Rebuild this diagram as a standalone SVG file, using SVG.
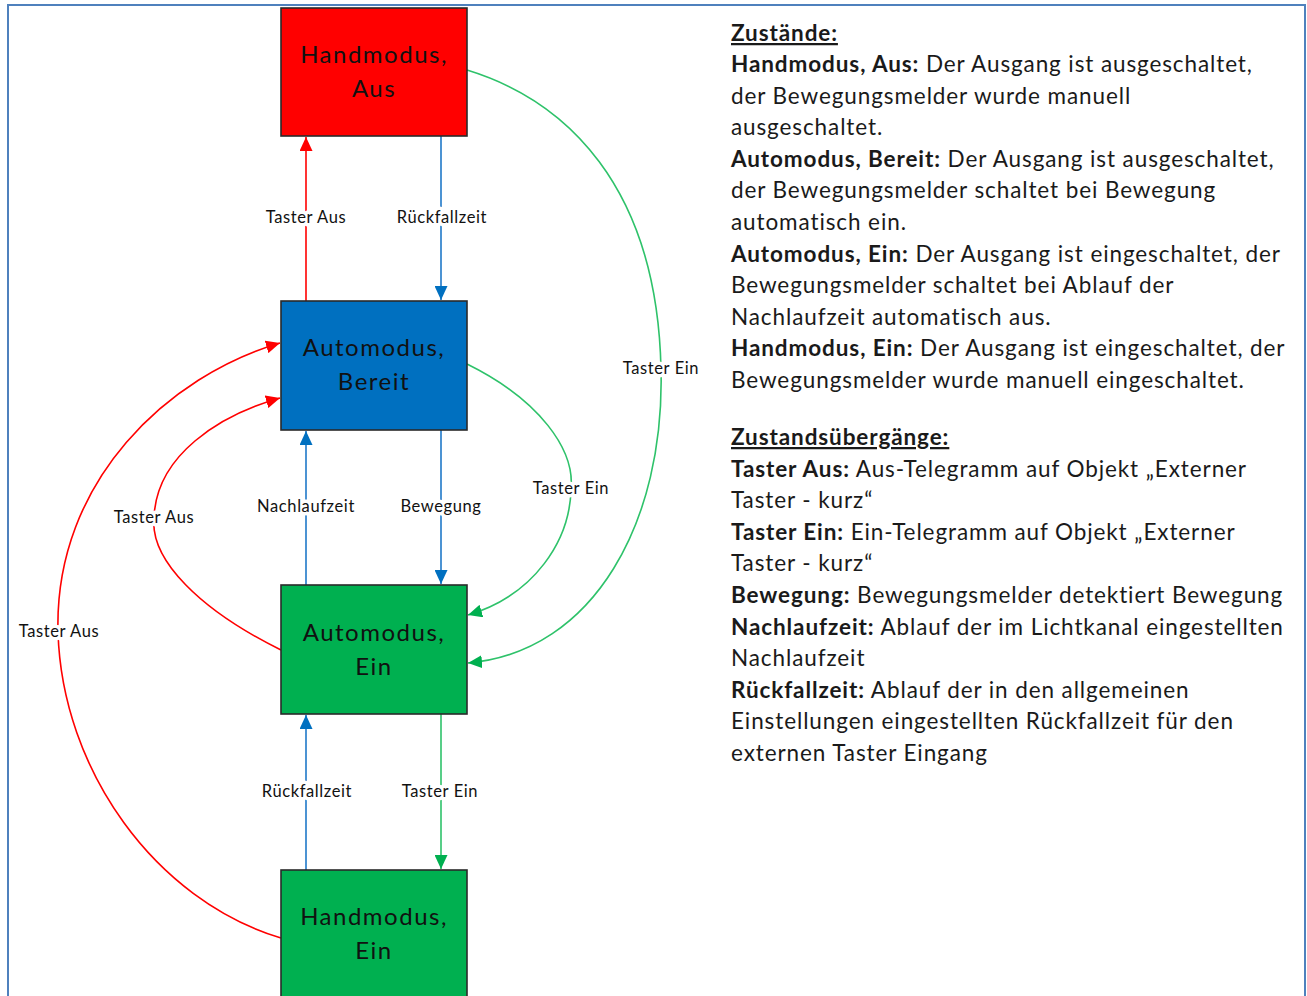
<svg xmlns="http://www.w3.org/2000/svg" width="1307" height="996" viewBox="0 0 1307 996">
<style>
.node rect{stroke:#2a2a2a;stroke-width:1.6}
.nt{font-family:Lato,"Liberation Sans",sans-serif;font-size:24px;letter-spacing:1.5px;fill:#111;text-anchor:middle}
.el{font-family:Lato,"Liberation Sans",sans-serif;font-size:16.5px;letter-spacing:0.6px;fill:#111;text-anchor:middle;stroke:#fff;stroke-width:7;paint-order:stroke;stroke-linejoin:round}
.c{fill:none;stroke-width:1.6}
.r{stroke:#FF0000}.b{stroke:#1F78C8}.g{stroke:#2EC26A}
.tx{font-family:Lato,"Liberation Sans",sans-serif;font-size:22.5px;letter-spacing:0.9px;fill:#1a1a1a}
.bd{font-weight:bold}
.ul{font-weight:bold;text-decoration:underline}
</style>
<defs>
<marker id="ar" viewBox="0 0 14 13" refX="14" refY="6.5" markerWidth="14" markerHeight="13" markerUnits="userSpaceOnUse" orient="auto"><path d="M0,0L14,6.5L0,13z" fill="#FF0000"/></marker>
<marker id="ab" viewBox="0 0 14 13" refX="14" refY="6.5" markerWidth="14" markerHeight="13" markerUnits="userSpaceOnUse" orient="auto"><path d="M0,0L14,6.5L0,13z" fill="#0070C0"/></marker>
<marker id="ag" viewBox="0 0 14 13" refX="14" refY="6.5" markerWidth="14" markerHeight="13" markerUnits="userSpaceOnUse" orient="auto"><path d="M0,0L14,6.5L0,13z" fill="#00B050"/></marker>
</defs>
<rect x="0" y="0" width="1307" height="996" fill="#fff"/>
<rect x="8" y="5" width="1297" height="1000" fill="none" stroke="#4F81BD" stroke-width="2"/>

<g id="connectors">
<path class="c r" d="M306,301V137" marker-end="url(#ar)"/>
<path class="c b" d="M441,136V300" marker-end="url(#ab)"/>
<path class="c g" d="M467,70C565,100 657,185 661,369C665,520 595,652 468,663" marker-end="url(#ag)"/>
<path class="c g" d="M467,364C540,400 575,450 571,489C570,540 535,595 468,615" marker-end="url(#ag)"/>
<path class="c b" d="M306,585V431" marker-end="url(#ab)"/>
<path class="c b" d="M441,430V584" marker-end="url(#ab)"/>
<path class="c r" d="M281,650C200,610 150,560 154,518C156,455 220,415 280,398" marker-end="url(#ar)"/>
<path class="c r" d="M281,938C155,900 62,770 58,632C54,480 170,375 280,343" marker-end="url(#ar)"/>
<path class="c b" d="M306,870V715" marker-end="url(#ab)"/>
<path class="c g" d="M441,714V869" marker-end="url(#ag)"/>
<text class="el" x="306" y="223">Taster Aus</text>
<text class="el" x="442" y="223">Rückfallzeit</text>
<text class="el" x="661" y="374">Taster Ein</text>
<text class="el" x="571" y="494">Taster Ein</text>
<text class="el" x="154" y="523">Taster Aus</text>
<text class="el" x="306" y="512">Nachlaufzeit</text>
<text class="el" x="441" y="512">Bewegung</text>
<text class="el" x="59" y="637">Taster Aus</text>
<text class="el" x="307" y="797">Rückfallzeit</text>
<text class="el" x="440" y="797">Taster Ein</text>
</g>

<g id="n-handmodus-aus" class="node">
<rect x="281" y="8" width="186" height="128" fill="#FF0000"/>
<text class="nt" x="374" y="63">Handmodus,</text>
<text class="nt" x="374" y="97">Aus</text>
</g>
<g id="n-automodus-bereit" class="node">
<rect x="281" y="301" width="186" height="129" fill="#0070C0"/>
<text class="nt" x="374" y="356">Automodus,</text>
<text class="nt" x="374" y="390">Bereit</text>
</g>
<g id="n-automodus-ein" class="node">
<rect x="281" y="585" width="186" height="129" fill="#00B050"/>
<text class="nt" x="374" y="641">Automodus,</text>
<text class="nt" x="374" y="675">Ein</text>
</g>
<g id="n-handmodus-ein" class="node">
<rect x="281" y="870" width="186" height="140" fill="#00B050"/>
<text class="nt" x="374" y="925">Handmodus,</text>
<text class="nt" x="374" y="959">Ein</text>
</g>

<g id="legend" class="tx">
<text x="731" y="41" class="ul">Zustände:</text>
<text x="731" y="72"><tspan class="bd">Handmodus, Aus:</tspan> Der Ausgang ist ausgeschaltet,</text>
<text x="731" y="104">der Bewegungsmelder wurde manuell</text>
<text x="731" y="135">ausgeschaltet.</text>
<text x="731" y="167"><tspan class="bd">Automodus, Bereit:</tspan> Der Ausgang ist ausgeschaltet,</text>
<text x="731" y="198">der Bewegungsmelder schaltet bei Bewegung</text>
<text x="731" y="230">automatisch ein.</text>
<text x="731" y="262"><tspan class="bd">Automodus, Ein:</tspan> Der Ausgang ist eingeschaltet, der</text>
<text x="731" y="293">Bewegungsmelder schaltet bei Ablauf der</text>
<text x="731" y="325">Nachlaufzeit automatisch aus.</text>
<text x="731" y="356"><tspan class="bd">Handmodus, Ein:</tspan> Der Ausgang ist eingeschaltet, der</text>
<text x="731" y="388">Bewegungsmelder wurde manuell eingeschaltet.</text>
<text x="731" y="445" class="ul">Zustandsübergänge:</text>
<text x="731" y="477"><tspan class="bd">Taster Aus:</tspan> Aus-Telegramm auf Objekt „Externer</text>
<text x="731" y="508">Taster - kurz“</text>
<text x="731" y="540"><tspan class="bd">Taster Ein:</tspan> Ein-Telegramm auf Objekt „Externer</text>
<text x="731" y="571">Taster - kurz“</text>
<text x="731" y="603"><tspan class="bd">Bewegung:</tspan> Bewegungsmelder detektiert Bewegung</text>
<text x="731" y="635"><tspan class="bd">Nachlaufzeit:</tspan> Ablauf der im Lichtkanal eingestellten</text>
<text x="731" y="666">Nachlaufzeit</text>
<text x="731" y="698"><tspan class="bd">Rückfallzeit:</tspan> Ablauf der in den allgemeinen</text>
<text x="731" y="729">Einstellungen eingestellten Rückfallzeit für den</text>
<text x="731" y="761">externen Taster Eingang</text>
</g>
</svg>
